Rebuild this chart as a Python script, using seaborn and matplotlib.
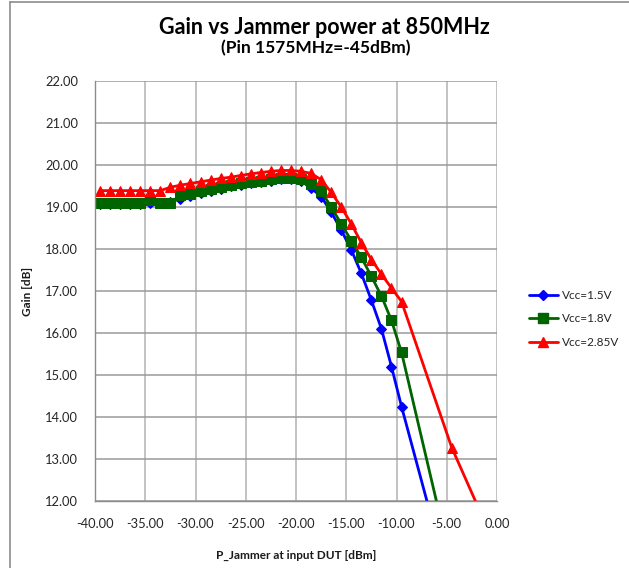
import numpy as np
import pandas as pd
import matplotlib
matplotlib.use("Agg")
import matplotlib.pyplot as plt
import seaborn as sns
from matplotlib.lines import Line2D

# ---- data ----
x_common = [-39.5, -38.5, -37.5, -36.5, -35.5, -34.5, -33.5, -32.5, -31.5, -30.5,
            -29.5, -28.5, -27.5, -26.5, -25.5, -24.5, -23.5, -22.5, -21.5, -20.5,
            -19.5, -18.5, -17.5, -16.5, -15.5, -14.5, -13.5, -12.5, -11.5, -10.5,
            -9.5, -4.5]
x_red = x_common + [0.5]

gain_15 = [19.07, 19.07, 19.07, 19.07, 19.07, 19.10, 19.10, 19.12, 19.20, 19.27,
           19.34, 19.39, 19.44, 19.49, 19.53, 19.57, 19.60, 19.63, 19.66, 19.67,
           19.62, 19.45, 19.25, 18.88, 18.45, 17.98, 17.42, 16.78, 16.10, 15.20,
           14.25, 9.80]
gain_18 = [19.10, 19.10, 19.10, 19.10, 19.10, 19.16, 19.10, 19.10, 19.28, 19.32,
           19.38, 19.43, 19.48, 19.52, 19.56, 19.60, 19.63, 19.66, 19.69, 19.70,
           19.66, 19.55, 19.38, 19.00, 18.60, 18.20, 17.80, 17.35, 16.88, 16.30,
           15.54, 10.44]
gain_285 = [19.39, 19.39, 19.39, 19.39, 19.39, 19.39, 19.39, 19.47, 19.52, 19.56,
            19.60, 19.64, 19.68, 19.71, 19.75, 19.79, 19.82, 19.85, 19.87, 19.87,
            19.85, 19.80, 19.65, 19.35, 19.00, 18.60, 18.15, 17.75, 17.40, 17.07,
            16.75, 13.27, 10.57]

series_names = ["Vcc=1.5V", "Vcc=1.8V", "Vcc=2.85V"]
x_ticks = [-40, -35, -30, -25, -20, -15, -10, -5, 0]
y_ticks = [12, 13, 14, 15, 16, 17, 18, 19, 20, 21, 22]

title = "Gain vs Jammer power at 850MHz"
subtitle = "(Pin 1575MHz=-45dBm)"
xlabel = "P_Jammer at input DUT [dBm]"
ylabel = "Gain [dB]"

df = pd.concat([
    pd.DataFrame({"x": x_common, "gain": gain_15, "series": series_names[0]}),
    pd.DataFrame({"x": x_common, "gain": gain_18, "series": series_names[1]}),
    pd.DataFrame({"x": x_red, "gain": gain_285, "series": series_names[2]}),
], ignore_index=True)

# ---- style ----
sns.set_style("white")
plt.rcParams["font.family"] = ["Lato", "DejaVu Sans"]

colors = {"Vcc=1.5V": "#0000FF", "Vcc=1.8V": "#006400", "Vcc=2.85V": "#FF0000"}
markers = {"Vcc=1.5V": "D", "Vcc=1.8V": "s", "Vcc=2.85V": "^"}
msizes = {"Vcc=1.5V": 5.5, "Vcc=1.8V": 7, "Vcc=2.85V": 7.5}

fig = plt.figure(figsize=(6.29, 5.68), dpi=100)
ax = fig.add_axes([95 / 629, 1 - 501 / 568, (497 - 95) / 629, (501 - 81) / 568])

for name in series_names:
    sub = df[df["series"] == name]
    sns.lineplot(data=sub, x="x", y="gain", ax=ax, color=colors[name],
                 marker=markers[name], markersize=msizes[name],
                 markeredgecolor=colors[name], linewidth=2.0,
                 estimator=None, sort=False, label=name, legend=False,
                 clip_on=True)

ax.set_xlim(-40, 0)
ax.set_ylim(12, 22)
ax.set_xticks(x_ticks)
ax.set_yticks(y_ticks)
ax.set_xticklabels([f"{v:.2f}" for v in x_ticks])
ax.set_yticklabels([f"{v:.2f}" for v in y_ticks])
ax.tick_params(axis="both", labelsize=9.3, colors="#262626", length=4,
               width=1, direction="out", pad=8)
ax.tick_params(axis="both", color="#8C8C8C")
ax.grid(True, axis="y", color="#9A9A9A", linewidth=1.1)
ax.grid(True, axis="x", color="#BDBDBD", linewidth=1.3)
ax.set_axisbelow(True)
for s in ["top", "right"]:
    ax.spines[s].set_visible(False)
for s in ["left", "bottom"]:
    ax.spines[s].set_color("#8C8C8C")
    ax.spines[s].set_linewidth(1.0)

ax.set_xlabel(xlabel, fontsize=8.5, fontweight="bold", color="#1A1A1A")
ax.set_ylabel(ylabel, fontsize=8.5, fontweight="bold", color="#1A1A1A")
ax.xaxis.set_label_coords((296 - 95) / (497 - 95), -(550 - 501) / (501 - 81))
ax.yaxis.set_label_coords(-(95 - 33) / (497 - 95), (501 - 291) / (501 - 81))

fig.text(324 / 629, 1 - 27 / 568, title, ha="center", va="center",
         fontsize=15.5, fontweight="bold", color="black")
fig.text(316 / 629, 1 - 48 / 568, subtitle, ha="center", va="center",
         fontsize=12.5, fontweight="bold", color="black")

handles = [Line2D([0], [0], color=colors[n], marker=markers[n],
                  markersize=msizes[n], linewidth=2.0) for n in series_names]
fig.legend(handles, series_names, loc="center left",
           bbox_to_anchor=(524 / 629, 1 - 319 / 568), frameon=False,
           fontsize=8.5, handlelength=2.5, labelspacing=1.05,
           handletextpad=0.3, borderaxespad=0)

# outer chart border
fig.add_artist(Line2D([10 / 629, 1.0], [1 - 2 / 568, 1 - 2 / 568],
                      color="#8C8C8C", linewidth=1.2, transform=fig.transFigure))
fig.add_artist(Line2D([10 / 629, 10 / 629], [0, 1 - 2 / 568],
                      color="#8C8C8C", linewidth=1.2, transform=fig.transFigure))

fig.savefig("out.png", dpi=100)
